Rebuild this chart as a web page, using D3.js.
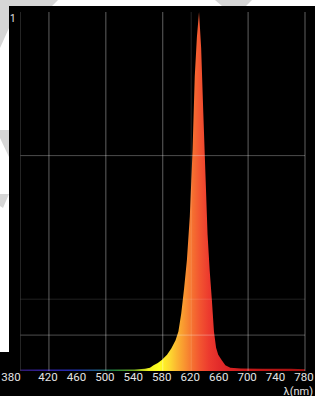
<!DOCTYPE html>
<html>
<head>
<meta charset="utf-8">
<script src="https://cdn.jsdelivr.net/npm/d3@7"></script>
<style>
  html, body { margin: 0; padding: 0; background: #fff; }
  svg { display: block; }
</style>
</head>
<body>
<div id="chart"></div>
<script>
  // Spectrum readings (nm, relative intensity)
  const wavelengths = [380, 420, 460, 500, 540, 555, 562, 567, 573, 579, 586, 592, 598, 602, 606, 610,
    614, 618, 622, 625, 628, 631, 634, 637, 640, 643, 646, 649, 652, 655, 658, 663, 668, 675, 690, 720, 760, 780];
  const intensity = [0.004, 0.004, 0.004, 0.004, 0.004, 0.006, 0.009, 0.016, 0.022, 0.031, 0.045, 0.063, 0.086, 0.11, 0.16, 0.23,
    0.31, 0.43, 0.62, 0.82, 0.93, 1.0, 0.9, 0.72, 0.55, 0.38, 0.28, 0.2, 0.11, 0.065, 0.045, 0.03, 0.016, 0.009, 0.007, 0.006, 0.006, 0.005];

  const tickLabels = [380, 420, 460, 500, 540, 580, 620, 660, 700, 740, 780];
  const gridX = [420, 500, 580, 700, 780];
  const gridXFaint = [380, 620];
  const gridY = [0.6, 0.1];
  const gridYFaint = [0.2];

  // wavelength -> colour stops for the fill
  const colorNm = [380, 420, 460, 490, 510, 540, 560, 575, 590, 600, 612, 622, 632, 645, 660, 700, 780];
  const colorHex = ['#301a70', '#3020a0', '#2030b0', '#206080', '#208040', '#70a820', '#f0f020', '#ffff20',
    '#fdd830', '#fbb530', '#f89030', '#f57030', '#f25530', '#ec3a2e', '#e22a2a', '#c81818', '#a01010'];

  const W = 315, H = 396;

  const svg = d3.select('#chart').append('svg')
    .attr('width', W)
    .attr('height', H);

  // watermark scraps in the white margin
  const marks = [
    [[0, 0], [58, 0], [52, 6], [9, 6], [9, 28], [0, 48]],
    [[215, 0], [252, 0], [246, 6], [222, 6]],
    [[0, 130], [9, 130], [9, 157], [0, 138]],
    [[0, 194], [9, 194], [3, 208], [0, 206]]
  ];
  svg.selectAll('polygon.wm')
    .data(marks)
    .enter()
    .append('polygon')
    .attr('class', 'wm')
    .attr('points', d => d.map(p => p.join(',')).join(' '))
    .attr('fill', '#d6d6d6');

  // black panel
  svg.append('rect').attr('x', 9).attr('y', 6).attr('width', W - 9).attr('height', H - 6).attr('fill', '#000');
  svg.append('rect').attr('x', 0).attr('y', 352).attr('width', 10).attr('height', H - 352).attr('fill', '#000');

  const x = d3.scaleLinear().domain([380, 780]).range([20.5, 305]);
  const y = d3.scaleLinear().domain([0, 1]).range([371, 12]);

  // gradient by wavelength
  const grad = svg.append('defs')
    .append('linearGradient')
    .attr('id', 'spec')
    .attr('gradientUnits', 'userSpaceOnUse')
    .attr('x1', x(380)).attr('x2', x(780))
    .attr('y1', 0).attr('y2', 0);

  grad.selectAll('stop')
    .data(colorNm)
    .enter()
    .append('stop')
    .attr('offset', d => ((d - 380) / 400 * 100) + '%')
    .style('stop-color', (d, i) => colorHex[i]);

  const pts = wavelengths.map((w, i) => [w, intensity[i]]);

  const area = d3.area()
    .x(d => x(d[0]))
    .y0(y(0))
    .y1(d => y(d[1]));

  svg.append('path')
    .datum(pts)
    .attr('d', area)
    .attr('fill', 'url(#spec)');

  // grid on top, semi transparent
  const grid = svg.append('g');
  grid.selectAll('line.vx')
    .data(gridX.concat(gridXFaint))
    .enter()
    .append('line')
    .attr('x1', d => x(d)).attr('x2', d => x(d))
    .attr('y1', y(1)).attr('y2', y(0))
    .attr('stroke', d => gridXFaint.includes(d) ? 'rgba(255,255,255,0.14)' : 'rgba(255,255,255,0.38)')
    .attr('stroke-width', 1);

  grid.selectAll('line.hy')
    .data(gridY.concat(gridYFaint))
    .enter()
    .append('line')
    .attr('x1', x(380)).attr('x2', x(780))
    .attr('y1', d => y(d)).attr('y2', d => y(d))
    .attr('stroke', d => gridYFaint.includes(d) ? 'rgba(255,255,255,0.13)' : 'rgba(255,255,255,0.3)')
    .attr('stroke-width', 1);

  // x axis labels
  const axis = svg.append('g')
    .attr('transform', `translate(0, ${y(0)})`)
    .call(d3.axisBottom(x).tickValues(tickLabels).tickSize(0).tickPadding(2).tickFormat(d3.format('d')));
  axis.select('.domain').remove();
  axis.selectAll('text')
    .attr('fill', '#e4e4e4')
    .attr('font-family', 'Roboto, sans-serif')
    .attr('font-size', '11.5px')
    .attr('dx', d => d === 380 ? -10 : -1.5);

  svg.append('text')
    .attr('x', 313)
    .attr('y', 394.5)
    .attr('text-anchor', 'end')
    .attr('fill', '#e4e4e4')
    .attr('font-family', 'Roboto, sans-serif')
    .attr('font-size', '11px')
    .text('λ(nm)');

  svg.append('text')
    .attr('x', 10)
    .attr('y', 22)
    .attr('fill', '#e4e4e4')
    .attr('font-family', 'Roboto, sans-serif')
    .attr('font-size', '10px')
    .text('1');
</script>
</body>
</html>
